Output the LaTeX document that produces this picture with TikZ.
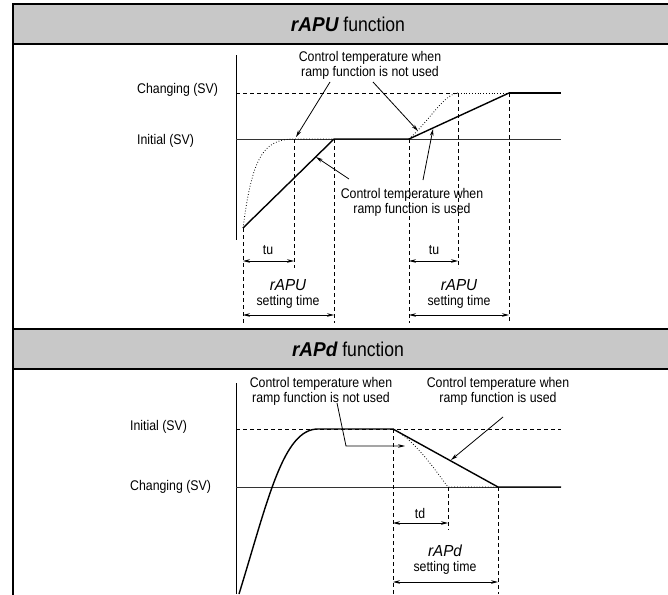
\documentclass[tikz,border=0pt]{standalone}
\usepackage{fontspec}
\setmainfont{Liberation Sans}[FakeStretch=0.88]
\newfontfamily\segfont{Liberation Sans}[FakeStretch=0.95]
\usetikzlibrary{arrows.meta}

\definecolor{hdgray}{RGB}{200,200,200}

\begin{document}
\begin{tikzpicture}[x=1pt,y=-1pt,>={Stealth[length=7pt,width=3.6pt]},
    lbl/.style={inner sep=0pt,align=center,font=\fontsize{14}{15}\selectfont},
    seglbl/.style={inner sep=0pt,font=\fontsize{16}{12}\selectfont\segfont\itshape},
    hdtext/.style={inner sep=0pt,font=\fontsize{20}{20}\selectfont},
    frame/.style={line width=2.4pt},
    level/.style={line width=0.9pt,black!80},
    ctrl/.style={line width=1.4pt},
    nouse/.style={dotted,line width=0.8pt},
    guide/.style={dashed,dash pattern=on 4pt off 3pt,line width=0.8pt},
    pointer/.style={->,line width=0.8pt}]
    \useasboundingbox (0,0) rectangle (668,594);
    % frame and headers
    \fill[hdgray] (13,4) rectangle (680,44);
    \fill[hdgray] (13,329) rectangle (680,369);
    \draw[frame] (680,4)--(13,4)--(13,600);
    \draw[frame] (13,44)--(680,44);
    \draw[frame] (13,329)--(680,329);
    \draw[frame] (13,369)--(680,369);
    \node[hdtext] (hdup) at (348,24) {{\segfont\bfseries\itshape rAPU} function};
    \node[hdtext] (hddown) at (348,349) {{\segfont\bfseries\itshape rAPd} function};

    % ---- rAPU chart ----
    \draw[line width=1pt] (236,55)--(236,240);
    \node[lbl,anchor=west] (chg1) at (137,90) {Changing (SV)};
    \node[lbl,anchor=west] (ini1) at (137,141) {Initial (SV)};
    \draw[level] (236,139)--(561,139);
    \draw[guide] (236,93)--(458,93);
    \draw[nouse] (458,93)--(509,93);
    \draw[ctrl] (509,93)--(561,93);
    \draw[ctrl] (243,228)--(334,139)--(409,139)--(509,93);
    \draw[nouse] (243,228) .. controls (252,160) and (262,139) .. (294,139) -- (334,139);
    \draw[nouse] (409,139) .. controls (430,120) and (444,94) .. (458,93);
    \foreach \x/\ya/\yb in {243/228/323,294/139/268,334/139/323,409/139/323,458/93/268,509/93/323}
        \draw[guide] (\x,\ya)--(\x,\yb);
    \node[lbl] (nouse1) at (370,65) {Control temperature when\\ramp function is not used};
    \node[lbl] (use1) at (412,202) {Control temperature when\\ramp function is used};
    \coordinate (nu1a) at (296,137);
    \coordinate (nu1b) at (418,131);
    \coordinate (us1a) at (316,157);
    \coordinate (us1b) at (433,129);
    \draw[pointer] (330,82)--(nu1a);
    \draw[pointer] (373,82)--(nu1b);
    \draw[pointer] (349,179)--(us1a);
    \draw[pointer] (423,180)--(us1b);
    % time spans
    \node[lbl] (tu1) at (268,250) {tu};
    \node[lbl] (tu2) at (434,250) {tu};
    \draw[<->,line width=0.8pt] (243,261)--(294,261);
    \draw[<->,line width=0.8pt] (409,261)--(458,261);
    \node[seglbl] (su1) at (288,285) {rAPU};
    \node[lbl] (st1) at (288,302) {setting time};
    \node[seglbl] (su2) at (459,285) {rAPU};
    \node[lbl] (st2) at (459,302) {setting time};
    \draw[<->,line width=0.8pt] (243,315)--(334,315);
    \draw[<->,line width=0.8pt] (409,315)--(509,315);

    % ---- rAPd chart ----
    \draw[line width=1pt] (236,383)--(236,594);
    \node[lbl,anchor=west] (ini2) at (130,427) {Initial (SV)};
    \node[lbl,anchor=west] (chg2) at (130,487) {Changing (SV)};
    \draw[guide] (236,429)--(561,429);
    \draw[level] (236,487)--(561,487);
    \draw[ctrl] (239,594) .. controls (268,500) and (283,429) .. (318,429)
        -- (393,429)--(498,487)--(561,487);
    \draw[nouse] (393,429) .. controls (415,440) and (435,470) .. (448,487) -- (498,487);
    \foreach \x/\ya/\yb in {393/429/594,448/487/530,498/487/594}
        \draw[guide] (\x,\ya)--(\x,\yb);
    \node[lbl] (nouse2) at (321,391) {Control temperature when\\ramp function is not used};
    \node[lbl] (use2) at (498,391) {Control temperature when\\ramp function is used};
    \coordinate (nu2) at (405,446);
    \coordinate (us2) at (451,460);
    \draw[pointer] (337,403)--(346,446)--(nu2);
    \draw[pointer] (503,417)--(us2);
    \node[lbl] (td) at (420,513) {td};
    \draw[<->,line width=0.8pt] (393,523)--(448,523);
    \node[seglbl] (sd) at (445,551) {rAPd};
    \node[lbl] (st3) at (445,568) {setting time};
    \draw[<->,line width=0.8pt] (393,582)--(498,582);
\end{tikzpicture}
\end{document}
